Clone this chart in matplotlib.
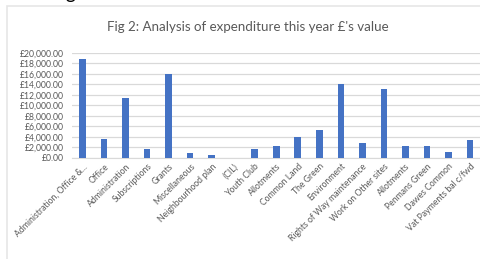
import numpy as np
import matplotlib.pyplot as plt
from matplotlib.patches import Rectangle
from matplotlib.ticker import FuncFormatter

# ----- data -----
categories = ['Administration, Office &...', 'Office', 'Administration', 'Subscriptions',
              'Grants', 'Miscellaneous', 'Neighbourhood plan', '(CIL)', 'Youth Club',
              'Allotments', 'Common Land', 'The Green', 'Environment',
              'Rights of Way maintenance', 'Work on Other sites', 'Allotments',
              'Penmans Green', 'Dawes Common', 'Vat Payments bal c/fwd']
spend = [18800, 3620, 11300, 1600, 15900, 840, 520, 0, 1710, 2290, 4000, 5280,
         13980, 2740, 13090, 2290, 2230, 1140, 3430]
yticks = np.arange(0, 20001, 2000)

title = "Fig 2: Analysis of expenditure this year \u00a3's value"
txt_col = '#595959'
bar_col = '#4472C4'

plt.rcParams['font.family'] = ['Lato', 'DejaVu Sans']

W, H = 481, 259
fig = plt.figure(figsize=(W/100, H/100), dpi=100)

# chart frame (light grey border, runs off the right / bottom edge)
fig.patches.append(Rectangle((7/W, -0.05), 1.2, (H-6)/H + 0.05, transform=fig.transFigure,
                             fill=False, edgecolor='#e6e6e6', linewidth=1.2))
# fragment of the document heading cut off at the top
fig.text(50/W, 1 + 1.5/H, 'Fig 2', fontsize=14, color='black', va='baseline', ha='left')

ax = fig.add_axes([71.7/W, (H-157.7)/H, (480.8-71.7)/W, (157.7-52.7)/H])
x = np.arange(len(categories))
ax.bar(x, spend, width=0.31, color=bar_col, zorder=3)

ax.set_xlim(-0.5, len(categories)-0.5)
ax.set_ylim(0, 20000)
ax.set_yticks(yticks)
ax.yaxis.set_major_formatter(FuncFormatter(lambda v, p: '\u00a3{:,.2f}'.format(v)))
ax.grid(axis='y', color='#d9d9d9', linewidth=0.9, zorder=0)
ax.set_xticks(x)
ax.set_xticklabels(categories, rotation=45, ha='right', rotation_mode='anchor')
ax.tick_params(axis='both', length=0, labelsize=6.2, colors=txt_col)
ax.tick_params(axis='x', pad=3)
ax.tick_params(axis='y', pad=6)
for s in ['top', 'right', 'left']:
    ax.spines[s].set_visible(False)
ax.spines['bottom'].set_color('#d9d9d9')

fig.text(248/W, 1 - 26.7/H, title, fontsize=9.6, color=txt_col, ha='center', va='center')

fig.savefig('out.png', dpi=100)
